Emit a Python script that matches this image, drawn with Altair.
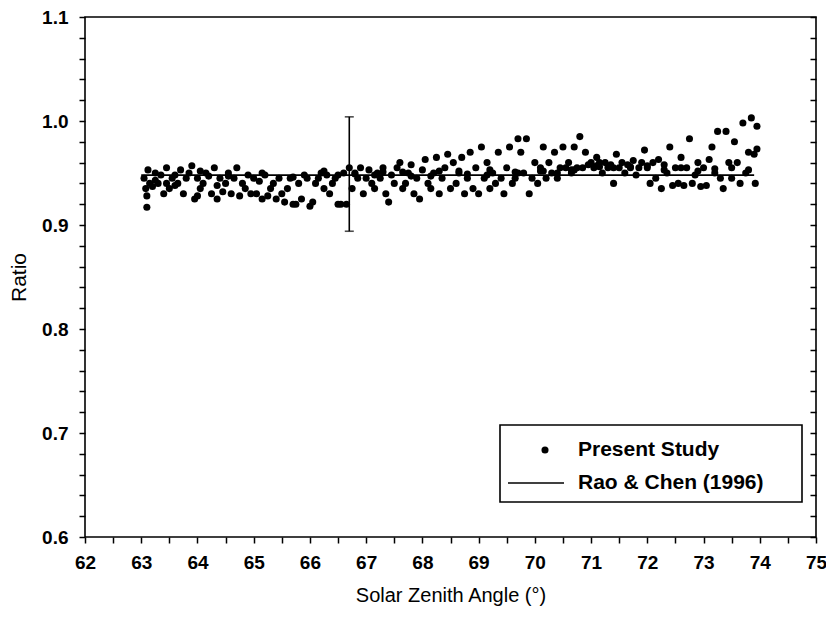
import altair as alt
import pandas as pd

# ---- data ----
pts_x = [
    63.05, 63.08, 63.10, 63.10, 63.12, 63.15, 63.20, 63.25, 63.30, 63.35, 63.40, 63.45, 63.45, 63.50, 63.55,
    63.60, 63.65, 63.70, 63.75, 63.80, 63.85, 63.90, 63.95, 64.00, 64.00, 64.05,
    64.10, 64.15, 64.20, 64.25, 64.30, 64.35, 64.35, 64.40, 64.45, 64.50,
    64.55, 64.60, 64.65, 64.70, 64.75, 64.80, 64.85, 64.90, 64.95, 65.00,
    65.05, 65.10, 65.15, 65.20, 65.25, 65.30, 65.35, 65.40, 65.45, 65.50,
    65.55, 65.60, 65.65, 65.70, 65.75, 65.80, 65.85, 65.90, 65.95, 66.00, 66.05,
    66.10, 66.15, 66.20, 66.25, 66.30, 66.35, 66.40, 66.45, 66.50, 66.50,
    66.55, 66.60, 66.65, 66.70, 66.75, 66.80, 66.85, 66.90, 66.95, 67.00,
    67.05, 67.10, 67.15, 67.20, 67.25, 67.30, 67.35, 67.40, 67.45, 67.50,
    67.55, 67.60, 67.65, 67.70, 67.75, 67.80, 67.85, 67.90, 67.95, 68.00,
    68.05, 68.10, 68.15, 68.20, 68.25, 68.30, 68.35, 68.40, 68.45, 68.50,
    68.55, 68.60, 68.65, 68.70, 68.75, 68.80, 68.85, 68.90, 68.95, 69.00,
    69.05, 69.10, 69.15, 69.20, 69.25, 69.30, 69.35, 69.40, 69.45, 69.50,
    69.55, 69.60, 69.65, 69.70, 69.75, 69.80, 69.85, 69.90, 69.95, 70.00,
    70.05, 70.10, 70.15, 70.20, 70.25, 70.30, 70.35, 70.40, 70.45, 70.50,
    70.55, 70.60, 70.65, 70.70, 70.75, 70.80, 70.85, 70.90, 70.95, 71.00,
    71.05, 71.10, 71.15, 71.20, 71.25, 71.30, 71.35, 71.40, 71.45, 71.50,
    71.55, 71.60, 71.65, 71.70, 71.75, 71.80, 71.85, 71.90, 71.95, 72.00,
    72.05, 72.10, 72.15, 72.20, 72.25, 72.30, 72.35, 72.40, 72.45, 72.50,
    72.55, 72.60, 72.65, 72.70, 72.75, 72.80, 72.85, 72.90, 72.95, 73.00,
    73.05, 73.10, 73.15, 73.20, 73.25, 73.30, 73.35, 73.40, 73.45, 73.50,
    73.55, 73.60, 73.65, 73.70, 73.75, 73.80, 73.85, 73.90, 73.92, 73.95, 73.95,
    # denser band near the reference line
    63.25, 63.60, 64.05, 64.55, 65.15, 65.70, 66.25, 66.80, 67.30, 67.80, 68.30, 68.80,
    69.20, 69.70, 70.10, 70.40, 70.70, 71.10, 71.40, 71.70, 72.00, 72.30, 72.60, 72.90,
    73.20, 73.50, 73.80, 67.15, 67.65, 68.15, 68.65, 69.15, 69.65, 70.15, 70.65, 71.15,
]
pts_y = [
    0.945, 0.935, 0.917, 0.928, 0.953, 0.940, 0.937, 0.943, 0.940, 0.948, 0.930, 0.955, 0.940, 0.935, 0.945,
    0.938, 0.940, 0.953, 0.930, 0.945, 0.950, 0.957, 0.925, 0.928, 0.945, 0.935,
    0.940, 0.950, 0.947, 0.930, 0.955, 0.925, 0.938, 0.945, 0.932, 0.940,
    0.950, 0.930, 0.945, 0.955, 0.928, 0.940, 0.935, 0.948, 0.930, 0.945,
    0.930, 0.942, 0.925, 0.948, 0.928, 0.935, 0.940, 0.925, 0.945, 0.930,
    0.922, 0.935, 0.945, 0.920, 0.920, 0.940, 0.925, 0.948, 0.945, 0.918, 0.922,
    0.940, 0.945, 0.950, 0.935, 0.948, 0.930, 0.940, 0.945, 0.920, 0.948,
    0.920, 0.950, 0.920, 0.955, 0.935, 0.950, 0.945, 0.955, 0.930, 0.945,
    0.953, 0.940, 0.935, 0.950, 0.945, 0.955, 0.930, 0.922, 0.948, 0.940,
    0.955, 0.960, 0.935, 0.940, 0.950, 0.958, 0.930, 0.945, 0.925, 0.953,
    0.963, 0.940, 0.935, 0.950, 0.965, 0.930, 0.945, 0.955, 0.968, 0.935,
    0.960, 0.940, 0.950, 0.965, 0.930, 0.945, 0.970, 0.935, 0.955, 0.930,
    0.975, 0.945, 0.960, 0.935, 0.950, 0.940, 0.970, 0.945, 0.930, 0.955,
    0.975, 0.940, 0.945, 0.983, 0.970, 0.950, 0.983, 0.930, 0.945, 0.960,
    0.940, 0.955, 0.975, 0.945, 0.960, 0.950, 0.970, 0.945, 0.955, 0.975,
    0.955, 0.960, 0.950, 0.975, 0.955, 0.985, 0.955, 0.970, 0.958, 0.960,
    0.955, 0.965, 0.960, 0.950, 0.960, 0.955, 0.958, 0.940, 0.968, 0.955,
    0.960, 0.950, 0.958, 0.955, 0.962, 0.948, 0.955, 0.960, 0.972, 0.955,
    0.940, 0.960, 0.945, 0.963, 0.935, 0.958, 0.950, 0.975, 0.938, 0.955,
    0.940, 0.965, 0.938, 0.955, 0.983, 0.940, 0.948, 0.960, 0.937, 0.955,
    0.938, 0.963, 0.975, 0.950, 0.990, 0.945, 0.935, 0.990, 0.960, 0.945,
    0.980, 0.960, 0.940, 0.998, 0.950, 0.970, 1.003, 0.968, 0.940, 0.995, 0.973,
    0.950, 0.948, 0.952, 0.947, 0.950, 0.946, 0.952, 0.949, 0.951, 0.947, 0.952, 0.949,
    0.953, 0.950, 0.952, 0.950, 0.953, 0.957, 0.955, 0.956, 0.957, 0.953, 0.955, 0.952,
    0.954, 0.955, 0.953, 0.948, 0.951, 0.947, 0.952, 0.948, 0.951, 0.952, 0.953, 0.956,
]

rao_x = [63.0, 73.9]
rao_y = [0.948, 0.948]

err_x = [66.7]
err_y = [0.949]
err_lo = [0.894]
err_hi = [1.004]

x_ticks = [62 + 0.5 * i for i in range(27)]
y_ticks = [round(0.6 + 0.02 * i, 2) for i in range(26)]

legend_labels = ["Present Study", "Rao & Chen (1996)"]

FONT = "Liberation Sans"

pts = pd.DataFrame({"x": pts_x, "y": pts_y})
rao = pd.DataFrame({"x": rao_x, "y": rao_y})
err = pd.DataFrame({"x": err_x, "y": err_y, "lo": err_lo, "hi": err_hi})

xscale = alt.Scale(domain=[62, 75], nice=False, zero=False)
yscale = alt.Scale(domain=[0.6, 1.1], nice=False, zero=False)

xaxis = alt.Axis(
    values=x_ticks,
    labelExpr="datum.value % 1 == 0 ? format(datum.value, 'd') : ''",
    labelOverlap=False,
    title="Solar Zenith Angle (°)",
    grid=False,
    domain=False,
    tickColor="black",
    tickSize=6,
    tickWidth=1.5,
    labelFont=FONT,
    labelFontSize=19,
    labelFontWeight="bold",
    labelColor="black",
    labelPadding=10,
    labelFlush=False,
    titleFont=FONT,
    titleFontSize=20,
    titleFontWeight="normal",
    titleColor="black",
    titlePadding=13,
)

yaxis = alt.Axis(
    values=y_ticks,
    labelExpr="abs(datum.value * 10 - round(datum.value * 10)) < 0.001 ? format(datum.value, '.1f') : ''",
    labelOverlap=False,
    title="Ratio",
    grid=False,
    domain=False,
    tickColor="black",
    tickSize=6,
    tickWidth=1.5,
    labelFont=FONT,
    labelFontSize=19,
    labelFontWeight="bold",
    labelColor="black",
    labelPadding=11,
    labelFlush=False,
    titleFont=FONT,
    titleFontSize=21,
    titleFontWeight="normal",
    titleColor="black",
    titlePadding=12,
)

points = alt.Chart(pts).mark_circle(size=50, color="black", opacity=1).encode(
    x=alt.X("x:Q", scale=xscale, axis=xaxis),
    y=alt.Y("y:Q", scale=yscale, axis=yaxis),
)

rao_line = alt.Chart(rao).mark_line(color="black", strokeWidth=1.6).encode(
    x=alt.X("x:Q", scale=xscale, axis=xaxis),
    y=alt.Y("y:Q", scale=yscale, axis=yaxis),
)

err_rule = alt.Chart(err).mark_rule(color="black", strokeWidth=1.6).encode(
    x=alt.X("x:Q", scale=xscale, axis=xaxis),
    y=alt.Y("lo:Q", scale=yscale, axis=yaxis),
    y2="hi:Q",
)
err_cap_hi = alt.Chart(err).mark_tick(color="black", orient="horizontal", size=9, thickness=1.6).encode(
    x=alt.X("x:Q", scale=xscale, axis=xaxis),
    y=alt.Y("hi:Q", scale=yscale, axis=yaxis),
)
err_cap_lo = alt.Chart(err).mark_tick(color="black", orient="horizontal", size=9, thickness=1.6).encode(
    x=alt.X("x:Q", scale=xscale, axis=xaxis),
    y=alt.Y("lo:Q", scale=yscale, axis=yaxis),
)

# ---- legend box (decoration) ----
one = pd.DataFrame({"a": [0]})
leg_box = alt.Chart(one).mark_rect(
    fill="white", stroke="black", strokeWidth=1.6
).encode(x=alt.value(415), x2=alt.value(717), y=alt.value(408), y2=alt.value(485))
leg_dot = alt.Chart(one).mark_circle(size=50, color="black", opacity=1).encode(
    x=alt.value(460), y=alt.value(433)
)
leg_line = alt.Chart(one).mark_rule(color="black", strokeWidth=1.6).encode(
    x=alt.value(423), x2=alt.value(479), y=alt.value(466)
)
leg_text1 = alt.Chart(one).mark_text(
    align="left", baseline="middle", font=FONT, fontSize=21, fontWeight="bold", color="black",
    text=legend_labels[0],
).encode(x=alt.value(493), y=alt.value(433))
leg_text2 = alt.Chart(one).mark_text(
    align="left", baseline="middle", font=FONT, fontSize=21, fontWeight="bold", color="black",
    text=legend_labels[1],
).encode(x=alt.value(493), y=alt.value(466))

main = alt.layer(points, rao_line, err_rule, err_cap_hi, err_cap_lo,
                 leg_box, leg_dot, leg_line, leg_text1, leg_text2)

right_axis = alt.Chart(rao).mark_point(opacity=0).encode(
    y=alt.Y(
        "y:Q",
        scale=yscale,
        axis=alt.Axis(
            orient="right", values=y_ticks, labels=False, title=None, grid=False,
            domain=False, tickColor="black", tickSize=6, tickWidth=1.5, offset=-6,
        ),
    ),
    x=alt.X("x:Q", scale=xscale, axis=xaxis),
)

chart = alt.layer(main, right_axis).resolve_scale(y="independent").properties(
    width=731,
    height=520,
    background="white",
    autosize=alt.AutoSizeParams(type="none"),
    padding={"left": 77, "top": 9, "right": 10, "bottom": 74},
).configure_view(stroke="black", strokeWidth=1.6)

chart.save("out.html", embed_options={"renderer": "svg", "actions": False})
